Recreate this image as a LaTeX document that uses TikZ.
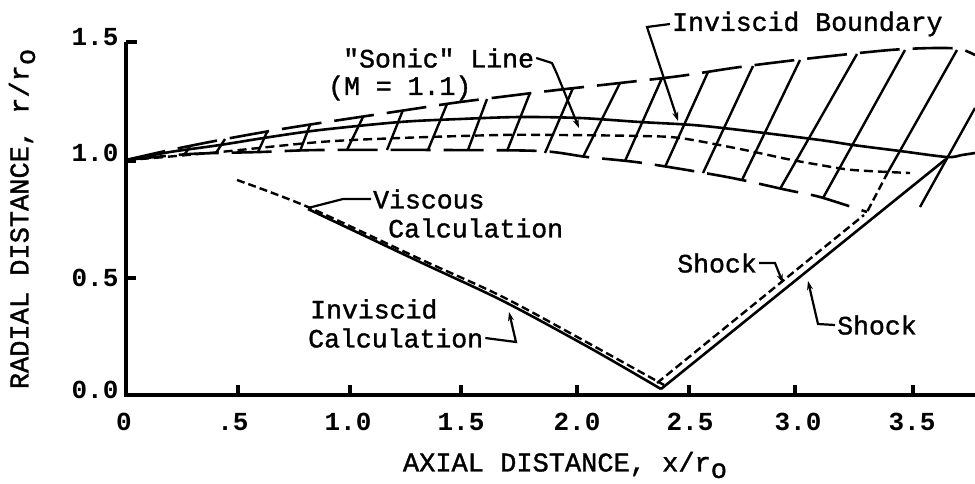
\documentclass[tikz,border=0pt]{standalone}
\usepackage{fontspec}
\setmainfont{Liberation Mono}
\newfontfamily\lblfont{Liberation Mono}[FakeBold=1.3]
\usetikzlibrary{arrows.meta}
\begin{document}
\begin{tikzpicture}[x=1pt,y=-1pt,
  axisline/.style={line width=3.2pt},
  curve/.style={line width=2.6pt},
  longdash/.style={line width=2.6pt, dash pattern=on 40pt off 13pt},
  shortdash/.style={line width=2.4pt, dash pattern=on 9pt off 5pt},
  finedash/.style={line width=2.4pt, dash pattern=on 8pt off 4pt},
  hatch/.style={line width=2.4pt},
  lbl/.style={font=\lblfont\fontsize{26.5}{30}\selectfont, inner sep=0pt},
  ttl/.style={font=\lblfont\fontsize{27}{30}\selectfont, inner sep=0pt},
  ticklbl/.style={font=\bfseries\fontsize{26}{30}\selectfont, inner sep=0pt},
  leader/.style={line width=2.2pt},
  ldarrow/.style={leader, -{Stealth[length=9pt,width=6pt]}}]

\useasboundingbox (0,0) rectangle (975,483);

% axes
\coordinate (O) at (126,395);
\coordinate (ytop) at (126,42);
\coordinate (xend) at (976,395);
\draw[axisline] (ytop) -- (O) -- (xend);
\draw[axisline] (ytop) -- ++(11,0);
\foreach \yy in {161,278} \draw[axisline] (126,\yy) -- ++(10,0);
\foreach \xx in {238,350,461,577,689,795,913} \draw[axisline] (\xx,395) -- ++(0,-10);

% tick labels
\node[ticklbl] (y15) at (95,37) {1.5};
\node[ticklbl] (y10) at (95,153) {1.0};
\node[ticklbl] (y05) at (95,278) {0.5};
\node[ticklbl] (y00) at (95,390) {0.0};
\node[ticklbl] (x0) at (124,422) {0};
\node[ticklbl] (x05) at (233,422) {.5};
\node[ticklbl] (x10) at (348,422) {1.0};
\node[ticklbl] (x15) at (461,422) {1.5};
\node[ticklbl] (x20) at (577,422) {2.0};
\node[ticklbl] (x25) at (690,422) {2.5};
\node[ticklbl] (x30) at (798,422) {3.0};
\node[ticklbl] (x35) at (912,422) {3.5};

% axis titles
\node[ttl] (xtitle) at (565,465) {AXIAL DISTANCE, x/r\raisebox{-0.45ex}{o}};
\node[ttl, rotate=90] (ytitle) at (22,219) {RADIAL DISTANCE, r/r\raisebox{-0.45ex}{o}};

% band curves
\draw[longdash] plot[smooth] coordinates {(126,160) (170,150) (220,140) (270,131) (320,123) (400,111) (453,103) (500,97) (557,90) (620,83) (680,76) (740,67) (813,58) (890,50) (935,48) (960,49) (975,55)};
\draw[curve] plot[smooth] coordinates {(126,160) (170,152) (220,145) (270,137) (320,130) (400,122) (460,119) (520,117) (580,118) (640,122) (693,125) (740,130) (820,140) (853,145) (900,151) (947,157) (962,155) (975,153)};
\draw[shortdash] plot[smooth] coordinates {(126,160) (153,158) (220,152) (320,142) (400,138) (500,135) (560,135) (640,136) (680,138) (740,149) (787,159) (820,165) (853,170) (910,173)};
\draw[longdash] plot[smooth] coordinates {(126,160) (190,154) (260,152) (320,150) (440,150) (540,151) (587,157) (643,163) (727,177) (787,190) (820,197) (867,212)};

% hatch lines
\foreach \tx/\ty/\bx/\by in {190/147/184/155, 225/139/216/153, 267/132/258/152,
  310/125/300/151, 363/117/347/150, 403/110/387/150, 447/104/428/150,
  487/99/468/150, 530/93/507/151, 573/88/545/153, 620/83/583/157,
  662/78/625/161, 708/72/665/167, 753/66/703/173, 800/60/742/180,
  857/54/780/189, 905/50/823/198, 957/50/888/172, 975/108/920/207}
  \draw[hatch] (\tx,\ty) -- (\bx,\by);
\draw[finedash] (888,172) -- (867,212);

% viscous / inviscid calculation lines
\coordinate (apex) at (661,389);
\draw[curve] plot[smooth] coordinates {(308,209) (420,262) (503,301) (590,348) (661,389)};
\draw[finedash] plot[smooth] coordinates {(237,180) (308,207) (420,259) (503,297) (590,344) (664,385)};

% shock lines
\coordinate (shocktop) at (946,159);
\draw[curve] (apex) -- (shocktop);
\draw[finedash] (657,383) -- (864,215);

% labels
\node[lbl, anchor=west] (ib) at (672,24) {Inviscid Boundary};
\node[lbl, anchor=west] (sl) at (343,58) {\char34 Sonic\char34{} Line};
\node[lbl, anchor=west] (sm) at (328,88) {(M = 1.1)};
\node[lbl, anchor=west] (vc1) at (373,199) {Viscous};
\node[lbl, anchor=west] (vc2) at (388,228) {Calculation};
\node[lbl, anchor=west] (ic1) at (310,309) {Inviscid};
\node[lbl, anchor=west] (ic2) at (308,338) {Calculation};
\node[lbl, anchor=east] (sk1) at (757,263) {Shock};
\node[lbl, anchor=west] (sk2) at (837,325) {Shock};

% leaders
\coordinate (ibtip) at (678,121);
\coordinate (sltip) at (579,128);
\coordinate (vctip) at (308,208);
\coordinate (ictip) at (509,312);
\coordinate (sk1tip) at (783,283);
\coordinate (sk2tip) at (808,281);
\draw[ldarrow] ([xshift=-2pt]ib.west) -- (647,27) -- (ibtip);
\draw[ldarrow] ([xshift=2pt]sl.east) -- (552,63) -- (557,74) -- (sltip);
\draw[leader] ([xshift=-2pt]vc1.west) -- (343,199) -- (vctip);
\draw[ldarrow] ([xshift=2pt]ic2.east) -- (516,342) -- (ictip);
\draw[ldarrow] ([xshift=2pt]sk1.east) -- (775,263) -- (sk1tip);
\draw[ldarrow] ([xshift=-2pt]sk2.west) -- (818,324) -- (sk2tip);
\end{tikzpicture}
\end{document}
